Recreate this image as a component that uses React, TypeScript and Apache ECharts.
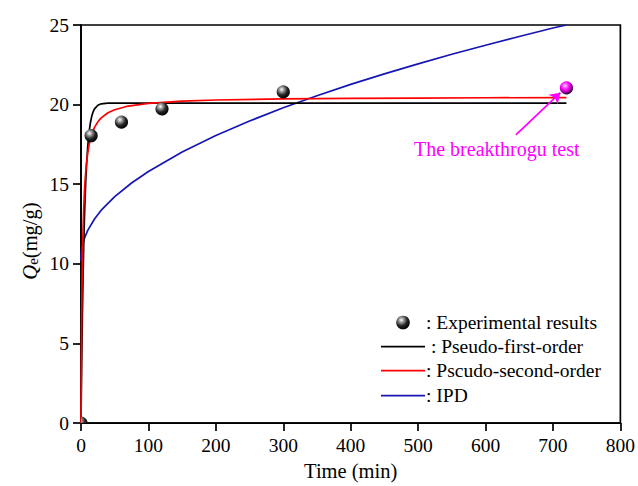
import React, { useEffect, useRef } from "react";
import * as echarts from "echarts";

// Contact time (min) and measured adsorption capacity (mg/g)
const expTime = [0, 15, 60, 120, 300];
const expQ = [0, 18.05, 18.9, 19.8, 20.8];
// Breakthrough test result
const btTime = [720];
const btQ = [21.05];

// Fitted kinetic curves: [time, Qe]
const pfoCurve = [
  [0, 0], [0.5, 1.91], [1, 3.64], [1.5, 5.21], [2, 6.62], [3, 9.07], [4, 11.07],
  [5, 12.71], [6, 14.05], [7, 15.14], [8, 16.04], [10, 17.38], [12, 18.28],
  [14, 18.88], [16, 19.28], [18, 19.55], [20, 19.73], [25, 19.96], [30, 20.05],
  [40, 20.09], [60, 20.1], [720, 20.1],
];
const psoCurve = [
  [0, 0], [0.5, 3.97], [1, 6.65], [1.5, 8.58], [2, 10.04], [3, 12.1], [4, 13.48],
  [5, 14.47], [6, 15.22], [8, 16.26], [10, 16.97], [12, 17.47], [15, 18.0],
  [20, 18.57], [25, 18.92], [30, 19.17], [40, 19.49], [50, 19.68], [70, 19.91],
  [100, 20.08], [150, 20.22], [200, 20.29], [300, 20.36], [400, 20.39],
  [500, 20.41], [600, 20.43], [720, 20.44],
];
const ipdCurve = [
  [0, 10.2], [0.5, 10.75], [1, 10.93], [2, 11.15], [5, 11.6], [10, 12.1],
  [20, 12.82], [30, 13.37], [50, 14.22], [75, 15.08], [100, 15.8], [150, 17.03],
  [200, 18.06], [250, 18.97], [300, 19.8], [350, 20.56], [400, 21.27], [450, 21.93],
  [500, 22.56], [550, 23.16], [600, 23.73], [650, 24.28], [700, 24.81], [720, 25.0],
];

const xTicks = [0, 800, 100];
const yTicks = [0, 25, 5];

const legendItems = [
  { label: ": Experimental results", kind: "ball", color: "#000" },
  { label: " : Pseudo-first-order", kind: "line", color: "#000000" },
  { label: ": Pscudo-second-order", kind: "line", color: "#ff0000" },
  { label: ": IPD", kind: "line", color: "#1616b4" },
];

const FONT = "'Liberation Serif', 'Times New Roman', serif";

const blackBall = () =>
  new echarts.graphic.RadialGradient(0.38, 0.32, 0.7, [
    { offset: 0, color: "#ffffff" },
    { offset: 0.22, color: "#a8a8a8" },
    { offset: 0.6, color: "#262626" },
    { offset: 1, color: "#000000" },
  ]);
const magentaBall = () =>
  new echarts.graphic.RadialGradient(0.4, 0.34, 0.7, [
    { offset: 0, color: "#ffc8ff" },
    { offset: 0.45, color: "#ff00ff" },
    { offset: 0.75, color: "#8a008a" },
    { offset: 1, color: "#000000" },
  ]);

export default function App() {
  const ref = useRef<HTMLDivElement>(null);

  useEffect(() => {
    if (!ref.current) return;
    const chart = echarts.init(ref.current, undefined, { renderer: "svg" });

    const ballSeries = (data: number[][], fill: () => any, clip: boolean) => ({
      type: "custom",
      coordinateSystem: "cartesian2d",
      clip,
      z: 5,
      data,
      encode: { x: 0, y: 1 },
      renderItem: (_p: any, api: any) => {
        const pt = api.coord([api.value(0), api.value(1)]);
        return {
          type: "circle",
          shape: { cx: pt[0], cy: pt[1], r: 6.6 },
          style: { fill: fill() },
        };
      },
    });

    const lineSeries = (data: number[][], color: string, name: string) => ({
      name,
      type: "line",
      data,
      symbol: "none",
      smooth: false,
      clip: true,
      lineStyle: { color, width: 1.7 },
      z: 3,
    });

    const legendGraphics: any[] = [];
    const legendY = [322.5, 346.7, 370.7, 395.7];
    legendItems.forEach((it, i) => {
      const y = legendY[i];
      if (it.kind === "ball") {
        legendGraphics.push({
          type: "circle",
          shape: { cx: 403, cy: y, r: 6.8 },
          style: { fill: blackBall() },
        });
      } else {
        legendGraphics.push({
          type: "line",
          shape: { x1: 381, y1: y, x2: 425, y2: y },
          style: { stroke: it.color, lineWidth: 1.7 },
        });
      }
      legendGraphics.push({
        type: "text",
        x: 426,
        y,
        style: {
          text: it.label,
          font: `19.5px ${FONT}`,
          fill: "#000",
          verticalAlign: "middle",
        },
      });
    });

    chart.setOption({
      animation: false,
      backgroundColor: "#ffffff",
      grid: {
        left: 81,
        right: 16,
        top: 25,
        bottom: 62,
        show: true,
        borderColor: "#000",
        borderWidth: 1.7,
        backgroundColor: "transparent",
      },
      xAxis: {
        type: "value",
        min: xTicks[0],
        max: xTicks[1],
        interval: xTicks[2],
        name: "Time (min)",
        nameLocation: "middle",
        nameGap: 34,
        nameTextStyle: { fontFamily: FONT, fontSize: 20.5, color: "#000" },
        axisLine: { show: true, lineStyle: { color: "#000", width: 1.7 } },
        axisTick: { show: true, inside: false, length: 8, lineStyle: { color: "#000", width: 1.7 } },
        axisLabel: { fontFamily: FONT, fontSize: 19.5, color: "#000", margin: 12 },
        splitLine: { show: false },
      },
      yAxis: {
        type: "value",
        min: yTicks[0],
        max: yTicks[1],
        interval: yTicks[2],
        axisLine: { show: true, lineStyle: { color: "#000", width: 1.7 } },
        axisTick: { show: true, inside: false, length: 8, lineStyle: { color: "#000", width: 1.7 } },
        axisLabel: { fontFamily: FONT, fontSize: 19.5, color: "#000", margin: 12 },
        splitLine: { show: false },
      },
      series: [
        lineSeries(ipdCurve, "#1616b4", "IPD"),
        lineSeries(pfoCurve, "#000000", "Pseudo-first-order"),
        lineSeries(psoCurve, "#ff0000", "Pscudo-second-order"),
        ballSeries(expTime.map((t, i) => [t, expQ[i]]), blackBall, true),
        {
          ...ballSeries(btTime.map((t, i) => [t, btQ[i]]), magentaBall, false),
          z: 6,
        },
        {
          type: "line",
          data: [],
          z: 4,
          markLine: {
            silent: true,
            animation: false,
            symbol: ["none", "arrow"],
            symbolSize: 10,
            label: { show: false },
            lineStyle: { color: "#ff00ff", width: 1.7, type: "solid" },
            data: [[{ coord: [645, 18.1] }, { coord: [711, 20.75] }]],
          },
        },
      ],
      graphic: [
        // Y-axis title: italic Q with subscript e
        {
          type: "text",
          x: 27,
          y: 241,
          rotation: Math.PI / 2,
          style: {
            text: "{q|Q}{s|e}{t|(mg/g)}",
            align: "center",
            verticalAlign: "middle",
            fill: "#000",
            rich: {
              q: { fontFamily: FONT, fontSize: 20.5, fontStyle: "italic", lineHeight: 26, verticalAlign: "bottom" },
              s: { fontFamily: FONT, fontSize: 15, lineHeight: 11, verticalAlign: "bottom" },
              t: { fontFamily: FONT, fontSize: 20.5, lineHeight: 26, verticalAlign: "bottom" },
            },
          },
        },
        {
          type: "text",
          x: 414,
          y: 149,
          style: {
            text: "The breakthrogu test",
            font: `20px ${FONT}`,
            fill: "#ff00ff",
            verticalAlign: "middle",
          },
        },
        ...legendGraphics,
      ],
    });

    return () => chart.dispose();
  }, []);

  return (
    <div
      ref={ref}
      style={{ position: "absolute", left: 0, top: 0, width: 638, height: 486 }}
    />
  );
}
